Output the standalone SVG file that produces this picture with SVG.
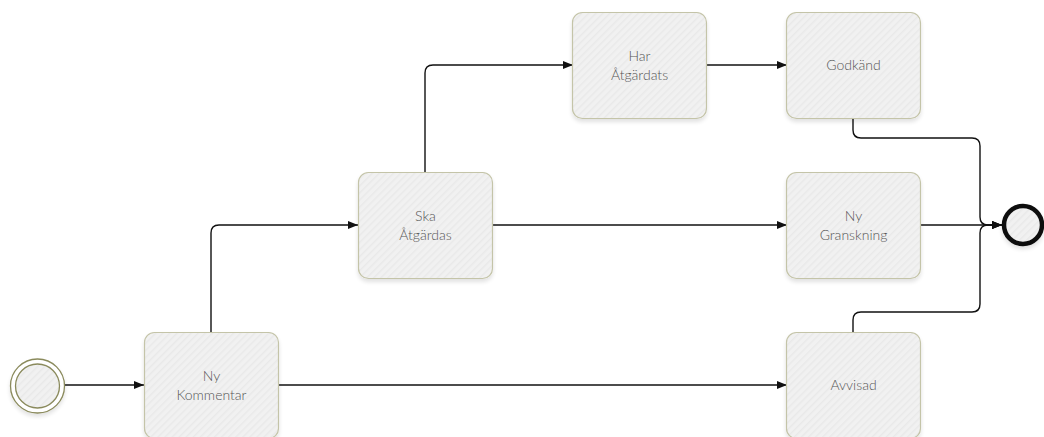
<svg xmlns="http://www.w3.org/2000/svg" width="1044" height="437" viewBox="0 0 1044 437">
  <style>
    .task { fill: url(#hatch); stroke: #c4c4a8; stroke-width: 1.2; filter: url(#shadow); }
    .label { font-family: "Lato", "Open Sans", "Liberation Sans", sans-serif; font-weight: 300; font-size: 14px; fill: #555; text-anchor: middle; }
    .flow { fill: none; stroke: #111; stroke-width: 1.4; stroke-linejoin: round; }
    .flow-end { marker-end: url(#arrow); }
  </style>
  <defs>
    <pattern id="hatch" width="5" height="5" patternUnits="userSpaceOnUse" patternTransform="rotate(45)">
      <rect width="5" height="5" fill="#f1f1f1"/>
      <rect width="1.5" height="5" fill="#e9e9e9"/>
    </pattern>
    <filter id="shadow" x="-20%" y="-20%" width="140%" height="150%">
      <feGaussianBlur in="SourceAlpha" stdDeviation="2"/>
      <feOffset dx="0" dy="3" result="b"/>
      <feComponentTransfer><feFuncA type="linear" slope="0.12"/></feComponentTransfer>
      <feMerge><feMergeNode/><feMergeNode in="SourceGraphic"/></feMerge>
    </filter>
    <marker id="arrow" viewBox="0 0 10 10" refX="10" refY="5" markerWidth="10" markerHeight="10" markerUnits="userSpaceOnUse" orient="auto">
      <path d="M0,1 L10,5 L0,9 Z" fill="#111"/>
    </marker>
  </defs>

  <rect width="1044" height="437" fill="#fff"/>

  <!-- sequence flows -->
  <g id="connectors">
    <path class="flow flow-end" d="M65,385 L144,385"/>
    <path class="flow flow-end" d="M211,332 L211,233 Q211,225 219,225 L358,225"/>
    <path class="flow flow-end" d="M278,385 L787,385"/>
    <path class="flow flow-end" d="M425,172 L425,73 Q425,65 433,65 L573,65"/>
    <path class="flow flow-end" d="M493,225 L787,225"/>
    <path class="flow flow-end" d="M706,65 L787,65"/>
    <path class="flow flow-end" d="M853,118 L853,130 Q853,138 861,138 L972,138 Q980,138 980,146 L980,217 Q980,225 988,225 L1002,225"/>
    <path class="flow flow-end" d="M920,225 L1002,225"/>
    <path class="flow flow-end" d="M853,332 L853,320 Q853,312 861,312 L972,312 Q980,312 980,304 L980,233 Q980,225 988,225 L1002,225"/>
  </g>

  <!-- start event -->
  <g id="start">
    <circle cx="37.5" cy="386" r="27" fill="#fff" stroke="#8a8a5c" stroke-width="1.3" filter="url(#shadow)"/>
    <circle cx="37.5" cy="386" r="22" fill="url(#hatch)" stroke="#8a8a5c" stroke-width="1.3"/>
  </g>

  <g id="ny-kommentar">
    <rect class="task" x="144.5" y="332.5" width="134" height="106" rx="10"/>
    <text class="label" x="211.5" y="381">Ny</text>
    <text class="label" x="211.5" y="400">Kommentar</text>
  </g>

  <g id="ska-atgardas">
    <rect class="task" x="358.5" y="172.5" width="134" height="106" rx="10"/>
    <text class="label" x="425.5" y="221">Ska</text>
    <text class="label" x="425.5" y="240">Åtgärdas</text>
  </g>

  <g id="har-atgardats">
    <rect class="task" x="572.5" y="12.5" width="134" height="106" rx="10"/>
    <text class="label" x="639.5" y="61">Har</text>
    <text class="label" x="639.5" y="80">Åtgärdats</text>
  </g>

  <g id="godkand">
    <rect class="task" x="786.5" y="12.5" width="134" height="106" rx="10"/>
    <text class="label" x="853.5" y="70">Godkänd</text>
  </g>

  <g id="ny-granskning">
    <rect class="task" x="786.5" y="172.5" width="134" height="106" rx="10"/>
    <text class="label" x="853.5" y="221">Ny</text>
    <text class="label" x="853.5" y="240">Granskning</text>
  </g>

  <g id="avvisad">
    <rect class="task" x="786.5" y="332.5" width="134" height="106" rx="10"/>
    <text class="label" x="853.5" y="390">Avvisad</text>
  </g>

  <!-- end event -->
  <g id="end">
    <circle cx="1023" cy="225" r="19" fill="url(#hatch)" stroke="#111" stroke-width="4.5" filter="url(#shadow)"/>
  </g>
</svg>
